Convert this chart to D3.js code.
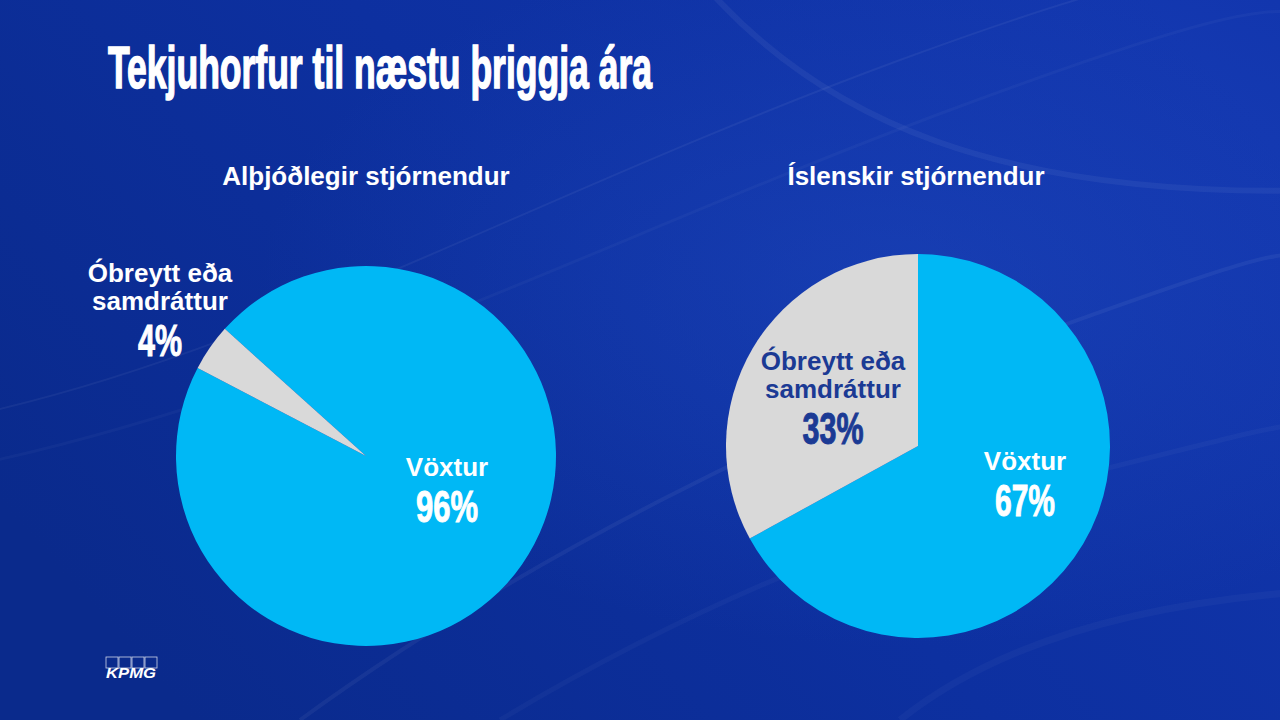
<!DOCTYPE html>
<html>
<head>
<meta charset="utf-8">
<script src="https://cdn.jsdelivr.net/npm/d3@7"></script>
<style>
  html, body { margin: 0; padding: 0; background: #0b2d9c; }
  svg { display: block; }
</style>
</head>
<body>
<svg id="chart" width="1280" height="720"></svg>
<script>
// ---- data ----
const title = "Tekjuhorfur til næstu þriggja ára";
const chartTitles = ["Alþjóðlegir stjórnendur", "Íslenskir stjórnendur"];
const categories = ["Vöxtur", "Óbreytt eða samdráttur"];
const globalValues = [96, 4];
const icelandValues = [67, 33];

// ---- layout ----
const W = 1280, H = 720;
const svg = d3.select("#chart");
const font = "'Liberation Sans', Arial, sans-serif";
const colors = d3.scaleOrdinal().domain(categories).range(["#00b8f5", "#d9d9d9"]);
const navy = "#1b3a94";

// background
const defs = svg.append("defs");
const bg = defs.append("linearGradient").attr("id", "bg")
  .attr("x1", "0%").attr("y1", "70%").attr("x2", "100%").attr("y2", "20%");
bg.append("stop").attr("offset", "0%").attr("stop-color", "#0a2a8c");
bg.append("stop").attr("offset", "50%").attr("stop-color", "#0d30a0");
bg.append("stop").attr("offset", "100%").attr("stop-color", "#1236ae");
svg.append("rect").attr("width", W).attr("height", H).attr("fill", "url(#bg)");

const glow = defs.append("radialGradient").attr("id", "glow")
  .attr("cx", "70%").attr("cy", "40%").attr("r", "50%");
glow.append("stop").attr("offset", "0%").attr("stop-color", "#2a58d0").attr("stop-opacity", 0.3);
glow.append("stop").attr("offset", "100%").attr("stop-color", "#2a58d0").attr("stop-opacity", 0);
svg.append("rect").attr("width", W).attr("height", H).attr("fill", "url(#glow)");

// subtle decorative curves
const curves = [
  "M-50,420 C250,360 520,200 900,60 S1250,-20 1330,-40",
  "M-50,470 C300,400 600,240 950,110 S1260,20 1330,10",
  "M300,720 C520,560 800,420 1050,330 S1260,260 1330,250",
  "M500,720 C700,600 900,520 1100,470 S1260,430 1330,420",
  "M700,-20 C820,120 1000,200 1330,190",
  "M900,720 C1000,640 1150,600 1330,590"
];
svg.append("g").selectAll("path").data(curves).join("path")
  .attr("d", d => d)
  .attr("fill", "none")
  .attr("stroke", "#ffffff")
  .attr("stroke-opacity", (d, i) => i % 2 ? 0.03 : 0.05)
  .attr("stroke-width", (d, i) => 2 + i);

// title
svg.append("text")
  .attr("x", 108).attr("y", 88)
  .attr("textLength", 544).attr("lengthAdjust", "spacingAndGlyphs")
  .attr("font-family", font).attr("font-weight", "bold").attr("font-size", 60)
  .attr("fill", "#ffffff").attr("stroke", "#ffffff").attr("stroke-width", 1.6)
  .text(title);

// pies
const pies = [
  { values: globalValues, cx: 366, cy: 456, r: 190, start: -48, title: chartTitles[0], titleX: 366,
    labels: [
      { dx: 81, dy: 20, color: "#ffffff", pctW: 62 },
      { dx: -206, dy: -174, color: "#ffffff", pctW: 44 }
    ] },
  { values: icelandValues, cx: 918, cy: 446, r: 192, start: 0, title: chartTitles[1], titleX: 916,
    labels: [
      { dx: 107, dy: 24, color: "#ffffff", pctW: 60 },
      { dx: -85, dy: -76, color: navy, pctW: 61 }
    ] }
];

pies.forEach(p => {
  const a0 = p.start * Math.PI / 180;
  const pie = d3.pie().sort(null).startAngle(a0).endAngle(a0 + 2 * Math.PI);
  const arc = d3.arc().innerRadius(0).outerRadius(p.r);
  const g = svg.append("g").attr("transform", `translate(${p.cx},${p.cy})`);
  const arcs = pie(p.values);
  g.selectAll("path").data(arcs).join("path")
    .attr("d", arc)
    .attr("fill", (d, i) => colors(categories[i]));

  svg.append("text")
    .attr("x", p.titleX).attr("y", 185)
    .attr("text-anchor", "middle")
    .attr("font-family", font).attr("font-weight", "bold").attr("font-size", 26)
    .attr("fill", "#ffffff")
    .text(p.title);

  arcs.forEach((d, i) => {
    const L = p.labels[i];
    const lx = p.cx + L.dx, ly = p.cy + L.dy;
    const t = svg.append("text")
      .attr("text-anchor", "middle")
      .attr("font-family", font).attr("font-weight", "bold").attr("font-size", 26)
      .attr("fill", L.color);
    const lines = i === 0 ? ["Vöxtur"] : ["Óbreytt eða", "samdráttur"];
    lines.forEach((ln, k) => {
      t.append("tspan").attr("x", lx).attr("y", ly + k * 28).text(ln);
    });
    const pctY = ly + (lines.length - 1) * 28 + 46;
    svg.append("text")
      .attr("x", lx - L.pctW / 2).attr("y", pctY)
      .attr("textLength", L.pctW).attr("lengthAdjust", "spacingAndGlyphs")
      .attr("font-family", font).attr("font-weight", "bold").attr("font-size", 44)
      .attr("fill", L.color).attr("stroke", L.color).attr("stroke-width", 1)
      .text(p.values[i] + "%");
  });
});

// KPMG logo
const logo = svg.append("g").attr("transform", "translate(106,657)");
logo.selectAll("rect").data([0, 1, 2, 3]).join("rect")
  .attr("x", d => d * 13).attr("y", 0).attr("width", 12).attr("height", 11)
  .attr("fill", "none").attr("stroke", "#ffffff").attr("stroke-width", 0.8).attr("stroke-opacity", 0.8);
logo.append("text")
  .attr("x", 0).attr("y", 21)
  .attr("textLength", 50).attr("lengthAdjust", "spacingAndGlyphs")
  .attr("font-family", font).attr("font-weight", "bold").attr("font-style", "italic").attr("font-size", 14)
  .attr("fill", "#ffffff")
  .text("KPMG");
</script>
</body>
</html>
